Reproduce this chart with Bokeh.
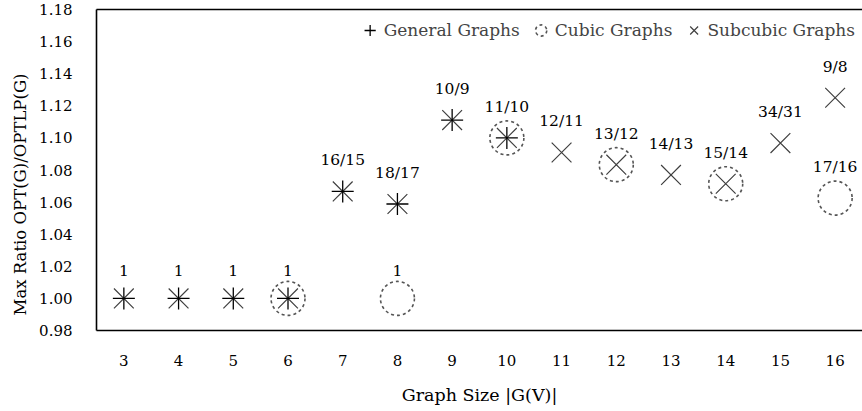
from bokeh.plotting import figure
from bokeh.models import (ColumnDataSource, Legend, LegendItem, LinearAxis, FixedTicker, Range1d,
                          NumeralTickFormatter, Title)
from bokeh.core.properties import value
from bokeh.embed import file_html
from bokeh.resources import INLINE

# ---- data ----
sizes = [3, 4, 5, 6, 7, 8, 9, 10, 11, 12, 13, 14, 15, 16]
general_n = [3, 4, 5, 6, 7, 8, 9, 10]
general_ratio = [1, 1, 1, 1, 16/15, 18/17, 10/9, 11/10]
subcubic_n = [3, 4, 5, 6, 7, 8, 9, 10, 11, 12, 13, 14, 15, 16]
subcubic_ratio = [1, 1, 1, 1, 16/15, 18/17, 10/9, 11/10, 12/11, 13/12, 14/13, 15/14, 34/31, 9/8]
cubic_n = [6, 8, 10, 12, 14, 16]
cubic_ratio = [1, 1, 11/10, 13/12, 15/14, 17/16]
label_n = [3, 4, 5, 6, 7, 8, 9, 10, 11, 12, 13, 14, 15, 16, 8, 16]
label_ratio = [1, 1, 1, 1, 16/15, 18/17, 10/9, 11/10, 12/11, 13/12, 14/13, 15/14, 34/31, 9/8, 1, 17/16]
label_text = ["1", "1", "1", "1", "16/15", "18/17", "10/9", "11/10", "12/11", "13/12",
              "14/13", "15/14", "34/31", "9/8", "1", "17/16"]
y_ticks = [0.98, 1.00, 1.02, 1.04, 1.06, 1.08, 1.10, 1.12, 1.14, 1.16, 1.18]
x_title = "Graph Size |G(V)|"
y_title = "Max Ratio OPT(G)/OPTLP(G)"

FONT = "DejaVu Serif"

p = figure(width=862, height=411, output_backend="svg", toolbar_location=None,
           x_range=Range1d(2.5, 16.5), y_range=Range1d(0.98, 1.18),
           min_border_left=96, min_border_right=0, min_border_top=9, min_border_bottom=81)
p.outline_line_color = None
p.xgrid.visible = False
p.ygrid.visible = False
p.background_fill_color = "white"
p.border_fill_color = "white"

cub = p.scatter(cubic_n, cubic_ratio, marker="circle", size=34, fill_color=None,
                line_color="#555555", line_width=1.6, line_dash="3 3")
sub = p.scatter(subcubic_n, subcubic_ratio, marker="x", size=28,
                line_color="#404040", line_width=1.2)
gen = p.scatter(general_n, general_ratio, marker="cross", size=22,
                line_color="#000000", line_width=1.3)

src = ColumnDataSource(dict(x=label_n, y=label_ratio, t=label_text))
p.text(x="x", y="y", text="t", source=src, text_font=value(FONT), text_font_size="15.5px",
       text_align="center", text_baseline="bottom", y_offset=-22, text_color="#000000")

# axes
for ax in (p.xaxis[0], p.yaxis[0]):
    ax.axis_line_color = "#000000"
    ax.axis_line_width = 1.6
    ax.major_tick_line_color = None
    ax.minor_tick_line_color = None
    ax.major_label_text_font = FONT
    ax.major_label_text_font_size = "15px"
    ax.major_label_text_color = "#000000"
    ax.axis_label_text_font = FONT
    ax.axis_label_text_font_size = "17.5px"
    ax.axis_label_text_font_style = "normal"
    ax.axis_label_text_color = "#000000"

p.xaxis.ticker = FixedTicker(ticks=sizes)
p.xaxis.major_label_standoff = 18
p.xaxis.axis_label = x_title
p.xaxis.axis_label_standoff = 16

p.yaxis.ticker = FixedTicker(ticks=y_ticks)
p.yaxis.formatter = NumeralTickFormatter(format="0.00")
p.yaxis.major_label_standoff = 18

ytitle = Title(text=y_title, align="left", offset=15, text_font=FONT, text_font_size="16.5px",
               text_font_style="normal", text_color="#000000", standoff=13)
p.add_layout(ytitle, "left")

top = LinearAxis(ticker=FixedTicker(ticks=[]), axis_line_color="#000000", axis_line_width=1.6,
                 major_tick_line_color=None, minor_tick_line_color=None,
                 major_label_text_font_size="0px")
p.add_layout(top, "above")

legend = Legend(items=[LegendItem(label="General Graphs", renderers=[gen]),
                       LegendItem(label="Cubic Graphs", renderers=[cub]),
                       LegendItem(label="Subcubic Graphs", renderers=[sub])],
                orientation="horizontal", location="top_right",
                label_text_font=FONT, label_text_font_size="17px",
                border_line_color=None, background_fill_alpha=0,
                glyph_width=28, glyph_height=28, label_standoff=-5, spacing=7,
                padding=2, margin=7)
p.add_layout(legend)

open("out.html", "w").write(file_html(p, INLINE))
